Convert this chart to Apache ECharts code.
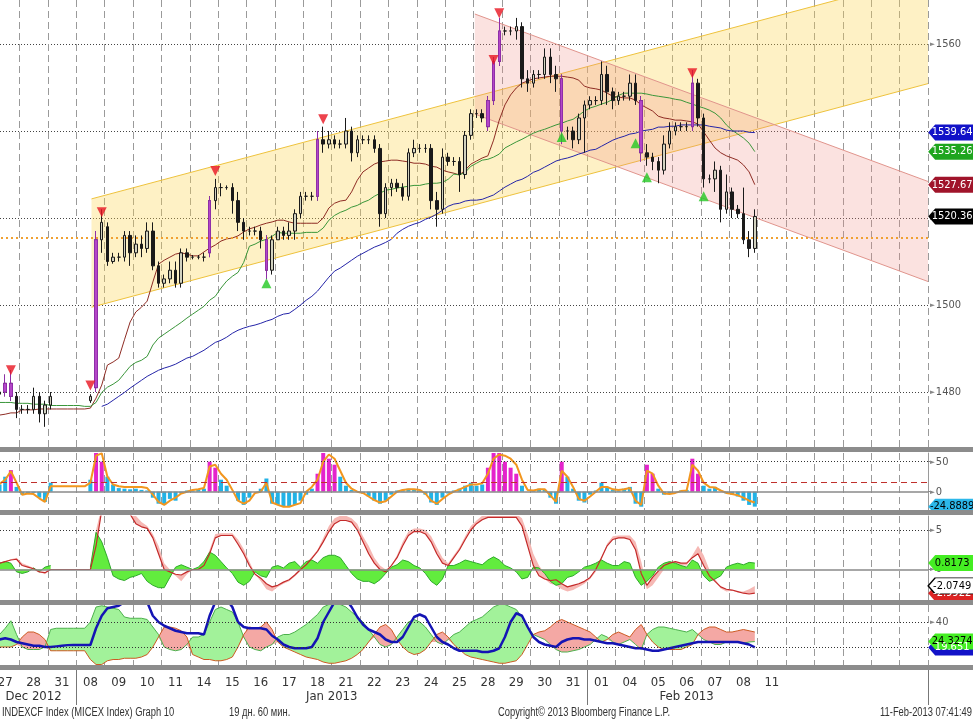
<!DOCTYPE html>
<html><head><meta charset="utf-8">
<script src="https://cdn.jsdelivr.net/npm/echarts@6/dist/echarts.min.js"></script>
<style>html,body{margin:0;padding:0;background:#fff}#c{width:973px;height:723px}</style>
</head><body><div id="c"></div>
<script>
// ---------- categories (5 bars per trading day) ----------
const dayLabels = ['27','28','31','08','09','10','11','14','15','16','17','18','21','22','23','24','25','28','29','30','31','01','04','05','06','07','08','11','','','','',''];
const monthNames = ['Dec 2012','Jan 2013','Feb 2013'];
const monthFirstDay = [0,3,21];
const monthLastDay = [2,20,27];

// ---------- price bars ----------
const open = [
 1479,1479.5,1480,1482,1479,  1476,1476,1476,1479,1475,  1477,null,null,null,null,  null,null,1478,1481,1515,
 1518,1510,1511,1511,1516,  1512,1514,1513,1517,1509,  1505,1506,1508,1505,1512,  1511,1511,1511,1512,1524,
 1527,1527,1527,1524,1519,  1517,1517,1517,1515,1508,  1515,1517,1516,1517,1521,  1525,1525,1525,1538,1537,
 1538,1537,1537,1540,1535,  1538,1538,1538,1536,1521,  1527,1528,1527,1525,1535,  1536,1536,1536,1524,1522,
 1534,1533,1533,1530,1539,  1544,1544,1541,1547,1556,  1563,1563,1563,1564,1552,  1551,1553,1553,1557,1553,
 1552,1540,1540,1538,1543,  1546,1547,1547,1553,1549,  1547,1548,1548,1551,1547,  1535,1534,1533,1531,1537,
 1540,1541,1541,1541,1551,  1543,1529,1529,1531,1522,  1526,1522,1521,1515,1513];
const close = [
 1479.5,1480,1482,1479,1476,  1476,1476,1479,1475,1477,  1479,null,null,null,null,  null,null,1479,1515,1519,
 1510,1511,1511,1516,1512,  1514,1513,1517,1509,1505,  1506,1508,1505,1512,1511,  1511,1511,1511,1524,1527,
 1527,1527,1524,1519,1517,  1517,1517,1515,1508,1515,  1517,1516,1517,1521,1525,  1525,1525,1538,1537,1538,
 1537,1537,1540,1535,1538,  1538,1538,1536,1521,1527,  1528,1527,1525,1535,1536,  1536,1536,1524,1522,1534,
 1533,1533,1530,1539,1544,  1544,1543,1547,1556,1563,  1563,1563,1564,1552,1551,  1553,1553,1557,1553,1552,
 1540,1540,1538,1543,1546,  1547,1547,1553,1549,1547,  1548,1548,1551,1547,1535,  1534,1533,1531,1537,1540,
 1541,1541,1541,1551,1543,  1529,1529,1531,1522,1526,  1522,1521,1515,1513,1520.36];
const high = [
 1480,1481,1484,1485,1480,  1477,1477,1481,1480,1478,  1480,null,null,null,null,  null,null,1479.5,1517,1522,
 1519,1512,1512,1517,1517,  1516,1516,1519,1519,1510,  1507,1510,1510,1513,1513,  1511.5,1511.5,1512,1525,1529,
 1528,1527.5,1528,1526,1520,  1518,1518,1518,1516,1516,  1518,1518,1519,1522,1526,  1526,1526,1540,1541,1540,
 1539,1538,1543,1541,1539,  1539,1539,1539,1537,1528,  1529,1529,1528,1536,1538,  1537,1537,1537,1526,1536,
 1535,1534,1534,1540,1545,  1545,1545,1548,1557,1566,  1564,1564,1566,1565,1554,  1554,1554,1559,1559,1555,
 1553,1541,1541,1544,1547,  1548,1548,1556,1555,1550,  1549,1549,1553,1553,1548,  1537,1535,1534,1539,1542,
 1542,1542,1542,1554,1552,  1544,1530,1533,1532,1530,  1527,1523,1527,1517,1522];
const low = [
 1478,1478.5,1479,1478,1474,  1475,1475,1475,1473,1472,  1476,null,null,null,null,  null,null,1477.5,1480,1512,
 1509,1509.5,1510,1510,1509,  1511,1511,1512,1508,1504,  1504,1505,1504,1504,1510,  1510.5,1510.5,1510,1511,1522,
 1525,1526.5,1521,1517,1515,  1516,1516,1513,1506,1507,  1515,1515,1515,1515,1520,  1524,1524,1524,1535,1536,
 1536,1536,1536,1533,1534,  1537,1537,1535,1518,1520,  1525,1526,1524,1524,1534,  1535,1535,1522,1518,1521,
 1532,1532,1526,1529,1538,  1543,1542,1540,1546,1555,  1562,1562,1561,1550,1549,  1550,1552,1552,1551,1549,
 1537,1538,1536,1537,1535,  1545,1546,1546,1546,1545,  1546,1547,1547,1546,1533,  1532,1531,1528,1530,1536,
 1539,1540,1540,1540,1541,  1527,1528,1526,1519,1521,  1520,1520,1514,1511,1512];
const purpleBars = [2,3,18,38,48,57,87,88,89,100,114,123];
const sellSignals = [[3,1485.0],[17,1481.5],[19,1521.3],[39,1530.8],[58,1542.7],[88,1556.3],[89,1567.1],[123,1553.3]];
const buySignals = [[48,1505.0],[100,1538.6],[113,1537.2],[115,1529.4],[125,1525.0]];
const refLevel = 1515.4;

// ---------- moving averages ----------
const maBrown = [
 1474.7,1474.7,1474.9,1475.2,1475.2, 1475.9,1475.9,1475.9,1476.1,1476.1, 1476.1,1476.1,1476.1,1476.1,1476.1, 1476.1,1476.1,1476.3,1478.6,1481.6,
 1486.2,1486.9,1487.8,1492.0,1496.1, 1498.4,1499.5,1500.9,1505.3,1509.4, 1510.3,1511.0,1511.7,1512.0,1511.7, 1511.3,1511.3,1512.2,1513.1,1513.8,
 1514.7,1515.2,1515.4,1515.9,1516.8, 1517.5,1517.9,1518.4,1518.8,1519.1, 1519.5,1519.5,1519.1,1518.8,1518.8, 1518.8,1518.8,1518.8,1520.0,1522.3,
 1523.4,1523.9,1524.1,1526.0,1528.7, 1530.6,1531.5,1532.4,1532.9,1533.1, 1533.3,1533.3,1533.1,1532.9,1532.6, 1532.6,1532.4,1531.9,1531.7,1531.0,
 1530.6,1530.3,1529.9,1531.0,1532.4, 1533.1,1533.8,1534.3,1537.9,1542.5, 1546.0,1548.3,1549.9,1551.0,1551.5, 1552.0,1552.2,1552.4,1552.6,1552.6,
 1552.6,1552.4,1552.2,1551.7,1550.3, 1549.9,1549.7,1549.4,1548.7,1548.0, 1547.8,1547.6,1547.6,1547.1,1546.0, 1545.3,1544.6,1543.4,1543.0,1542.8,
 1542.5,1542.5,1542.3,1542.1,1541.6, 1539.8,1537.9,1536.1,1535.0,1534.3, 1533.8,1533.3,1532.2,1530.6,1527.67];
const maGreen = [
 1477.9,1477.6,1477.6,1477.6,1477.4, 1477.4,1477.4,1477.2,1477.2,1477.2, 1476.9,1476.9,1476.9,1476.9,1476.9, 1476.9,1476.7,1476.7,1477.6,1479.9,
 1481.1,1481.8,1482.7,1484.3,1485.9, 1486.8,1487.3,1488.2,1490.8,1492.4, 1493.3,1494.2,1495.1,1496.0,1497.0, 1497.9,1498.8,1499.7,1501.1,1502.0,
 1503.9,1505.5,1506.6,1507.5,1509.8, 1513.5,1514.0,1514.7,1515.1,1515.8, 1516.7,1516.5,1516.5,1516.5,1516.5, 1516.7,1516.7,1516.7,1517.7,1519.5,
 1520.6,1521.3,1521.8,1522.5,1522.9, 1523.6,1524.1,1525.0,1525.7,1526.4, 1526.6,1526.9,1527.1,1527.3,1527.5, 1527.5,1527.8,1528.0,1528.0,1528.2,
 1528.9,1530.1,1529.9,1530.5,1531.9, 1532.6,1533.3,1533.5,1534.0,1534.7, 1536.1,1536.8,1537.5,1538.1,1538.8, 1539.5,1540.0,1540.4,1540.9,1541.4,
 1541.8,1542.3,1542.7,1543.6,1544.6, 1545.3,1545.7,1546.2,1546.6,1547.3, 1548.2,1548.7,1548.7,1548.7,1548.7, 1548.5,1548.2,1548.0,1547.8,1547.6,
 1547.3,1547.1,1546.6,1546.2,1545.7, 1545.3,1544.8,1544.1,1543.0,1541.4, 1540.2,1539.3,1538.4,1537.2,1535.26];
const maBlue = [
 null,null,null,null,null, null,null,null,null,null, null,null,null,null,null, null,null,null,null,1476.7,
 1477.2,1478.1,1479.0,1479.9,1480.9, 1481.8,1482.7,1483.6,1484.3,1485.0, 1485.5,1485.9,1486.4,1487.1,1487.8, 1488.2,1488.9,1489.6,1490.5,1491.4,
 1491.9,1492.6,1493.5,1494.2,1494.7, 1495.1,1495.4,1495.8,1496.3,1496.7, 1497.4,1497.9,1498.1,1499.0,1500.0, 1501.1,1502.0,1503.2,1504.8,1506.4,
 1507.8,1508.5,1509.4,1510.3,1511.2, 1511.9,1512.6,1513.3,1513.8,1514.4, 1515.1,1516.5,1517.4,1518.1,1518.6, 1519.0,1519.7,1520.2,1520.9,1521.8,
 1522.7,1523.2,1523.4,1523.9,1524.1, 1524.1,1524.3,1524.8,1525.3,1526.2, 1527.1,1527.8,1528.5,1528.9,1529.6, 1530.5,1531.0,1531.7,1532.4,1533.1,
 1533.5,1533.8,1534.2,1534.7,1535.1, 1535.6,1535.8,1536.5,1537.2,1537.9, 1538.4,1538.8,1539.3,1539.5,1540.0, 1540.2,1540.4,1540.9,1540.9,1541.1,
 1541.1,1541.4,1541.4,1541.4,1541.4, 1541.4,1541.1,1540.9,1540.7,1540.2, 1540.0,1540.0,1540.0,1539.7,1539.64];

// ---------- trend channels (x in bar slots) ----------
const upChannelX = [17.7, 165];
const upChannelTop = [1524.4, 1575.7];
const upChannelBottom = [1499.5, 1550.9];
const downChannelX = [85.2, 165];
const downChannelTop = [1566.9, 1528.4];
const downChannelBottom = [1543.9, 1505.4];

// ---------- panel 1 : oscillator ----------
const osc1Hist = [
 10,12,25,36,8,  -5,-3,-2,-10,-17,  15,null,null,null,null,  null,null,20,65,50,
 25,12,6,5,4,  5,3,2,-10,-20,  -22,-12,-15,-3,2,  2,3,5,50,40,
 20,10,0,-15,-22,  -10,0,5,22,-20,  -22,-24,-25,-22,-15,  -5,5,30,65,55,
 45,25,10,3,0,  -3,-8,-15,-20,-15,  -5,2,3,5,4,  2,-5,-18,-22,-10,
 -3,2,5,10,15,  10,12,40,65,65,  50,40,30,10,0,  2,5,3,-10,-20,
 50,25,5,-15,-18,  -5,2,15,8,3,  2,5,8,-20,-25,  45,30,5,-5,-3,
 0,2,3,55,30,  10,5,8,0,-3,  -5,-8,-15,-22,-24.8889];
const osc1Line = [
 12,13,20,34,15,  -5,-3,-4,-11,-17,  9,9,9,9,9,  9,9,15,60,64,
 25,12,9,8,8,  8,8,6,-5,-17,  -22,-15,-10,-3,0,  3,4,6,42,45,
 30,20,3,-15,-20,  -15,-2,0,15,-18,  -22,-25,-25,-22,-19,  0,8,20,50,62,
 55,35,15,5,0,  -2,-8,-14,-18,-16,  -8,0,3,4,4,  3,-3,-15,-20,-12,
 -5,0,4,8,12,  12,14,30,55,62,  60,55,45,20,3,  2,4,4,-6,-17,
 35,25,8,-12,-15,  -8,0,8,8,4,  3,4,6,-15,-22,  35,30,10,-3,-4,
 -2,1,2,45,35,  15,8,7,2,-2,  -4,-6,-10,-15,-18];
const osc1Levels = [0, 15, 50];

// ---------- panel 2 ----------
const p2Hist = [
 0.5,0.8,1.0,0.8,-0.3,  -0.5,-0.3,0.2,-0.3,0.3,  0.5,null,null,null,null,  null,null,0.3,4.7,3.5,
 1.5,-0.8,-1.2,-1.4,-1.0,  -0.8,-0.5,-1.5,-2.0,-2.3,  -2.3,-1.0,0.3,0.6,0.3,  0,0.3,1.0,2.2,1.8,
 1.0,0.2,-0.5,-1.6,-2.0,  -1.5,-0.3,-0.8,-1.0,0.3,  0.5,0.2,0.8,1.0,0.3,  1.0,1.2,0.8,1.5,1.8,
 1.8,1.5,0.5,-0.5,-1.2,  -1.5,-1.5,-1.8,-1.3,-0.5,  0.3,0.6,1.2,1.0,0.5,  0.2,-0.5,-1.5,-2.0,-1.2,
 0.5,0.5,0.8,1.2,1.0,  0.8,0.6,1.2,1.6,1.2,  0.5,0.2,-0.3,-1.2,-1.0,  0.3,0.2,-0.5,-1.5,-2.0,
 -1.8,-1.0,-0.8,-0.3,0.3,  0.5,0.8,1.2,0.8,0.5,  0.5,1.0,0.8,-1.0,-2.0,  -1.5,-0.8,0.3,0.8,1.0,
 0.8,0.5,0.3,1.2,0.8,  -0.8,-1.5,-1.2,-0.8,0.3,  0.6,0.8,0.6,0.9,0.8173];
const p2Line = [
 0.7,0.8,1.0,1.2,1.3,  0.5,0.3,0.1,-0.3,-0.4,  0,0,0,0,0,  0,0,0,3.0,7.5,
 8,8,8,7.5,7,  5.8,5.4,5.2,4.0,2.0,  0,-0.3,-0.6,-0.7,-0.3,  0,0,0.5,2.0,4.0,
 4.3,4.3,4.3,3.2,2.0,  0.5,-0.6,-1.1,-1.8,-2.2,  -2.0,-1.6,-1.3,-0.7,0,  0.6,1.4,2.3,3.5,4.8,
 5.8,6.2,6.2,6.0,5.0,  3.5,2.0,0.8,0.0,-0.3,  0.5,1.5,3.0,4.3,4.8,  4.8,4.5,3.5,2.0,0.8,
 0.5,1.5,2.5,3.8,5.0,  5.8,6.3,6.6,6.6,6.6,  6.6,6.6,6.6,5.5,3.0,  0.5,-0.8,-1.2,-1.4,-1.3,
 -1.8,-2.2,-2.0,-1.8,-1.5,  -1.0,0,1.5,3.0,3.8,  4.0,4.0,3.8,2.5,-0.5,  -2.0,-1.0,-0.2,0.5,0.8,
 1.0,0.8,0.8,1.5,2.0,  0.5,-0.8,-1.5,-2.2,-2.5,  -2.6,-2.8,-3.0,-3.1,-2.9922];
const p2Signal = [
 0.7,0.8,1.0,1.3,1.5,  0.8,0.5,0.2,-0.3,-0.6,  0,0,0,0,0,  0,0,0,5,8,
 8,8,8,8,8,  6.8,6.0,5.5,4.5,3.0,  0.8,0,-0.8,-1.5,-0.6,  0,0,0.5,2.5,4.5,
 4.6,4.6,4.6,3.8,2.6,  1.0,-0.5,-1.5,-2.5,-2.8,  -2.2,-1.8,-1.5,-0.9,-0.2,  0.8,1.6,2.5,4.0,5.5,
 6.5,6.8,6.8,6.5,5.8,  4.2,3.0,1.5,0.5,0,  0.5,1.8,3.5,4.8,5.2,  5.2,5.0,4.2,2.8,1.5,
 0.8,1.8,2.8,4.2,5.5,  6.2,6.8,7.0,7.0,7.0,  7.0,7.0,7.0,6.5,4.5,  2.0,0.5,-0.5,-1.8,-2.0,
 -2.5,-2.8,-2.6,-2.2,-1.8,  -1.2,-0.3,1.2,3.3,4.2,  4.3,4.3,4.3,3.5,1.0,  -2.5,-2.0,-1.0,0,0.6,
 0.8,0.5,0.5,1.8,3.0,  1.8,0,-1.2,-2.4,-2.8,  -2.7,-2.9,-2.8,-2.5,-2.0749];
const p2Levels = [0, 5];

// ---------- panel 3 : DMI ----------
const plusDI = [
 28,30,35,41,30,  20,18,18,18,20,  34,35,35,35,35,  35,35,40,52,53,
 52,51,50,44,43,  43,43,42,36,30,  20,18,17,18,22,  28,28,30,40,50,
 52,50,48,40,28,  20,18,17,20,22,  28,30,30,32,35,  38,42,46,52,54,
 54,54,52,48,44,  40,34,28,22,20,  22,28,34,40,42,  40,36,30,24,22,
 26,30,32,36,40,  42,44,48,52,54,  54,52,50,44,36,  30,28,26,22,18,
 16,16,17,18,20,  22,26,30,28,24,  22,24,26,22,18,  30,34,36,36,35,
 34,33,32,34,30,  26,24,22,22,24,  24,24,23,24,24.3274];
const minusDI = [
 20,20,20,20,22,  28,32,32,30,26,  17,17,17,17,17,  17,17,10,6,6,
 9,10,10,11,11,  11,12,14,20,28,  36,36,35,33,28,  14,12,10,10,9,
 9,10,12,20,30,  36,35,36,40,34,  24,20,18,16,14,  12,11,10,8,7,
 7,8,9,11,14,  18,24,30,36,38,  34,26,20,16,14,  15,18,24,30,32,
 28,22,18,14,12,  11,10,9,8,7,  7,8,9,14,22,  30,32,33,36,40,
 42,40,38,36,34,  32,28,24,26,30,  32,30,28,34,38,  30,24,20,18,18,
 18,18,20,22,30,  34,36,36,34,32,  32,33,34,33,32];
const adx = [
 25,26,27,26,24,  23,22,21,21,20,  20,20.5,21,21.5,21.6,  21.6,21.6,21.6,35,45,
 51,52,53,56,58,  58,58,56,45,40,  37,35,33,32,31,  31,31,30,45,56,
 58,58,52,40,36,  35,35,35,34,29,  26,22,20,19,19,  19,20,27,40,48,
 56,58,58,52,44,  38,34,32,30,26,  24,24,28,36,44,  46,44,36,28,24,
 22,19,17,17,17,  17,16,16,17,19,  28,40,47,45,36,  28,24,22,21,20,
 24,26,27,27,26,  26,25,24,23,23,  22,21,20,19,19,  18,17,17,18,19,
 20,21,22,23,24,  24,24,24,24,24,  24,24,23,22,19.651];
const p3Levels = [20, 40];

// ================= build =================
const N = dayLabels.length * 5;
const cats = [];
for (let i = 0; i < N; i++) cats.push(dayLabels[Math.floor(i / 5)]);
const last = a => a[a.length - 1];
const FONT = '"Liberation Sans Narrow","DejaVu Sans Condensed","Liberation Sans",sans-serif';

const candleData = open.map((o, i) => o == null ? '-' : [o, close[i], low[i], high[i]]);
const purpleData = open.map((o, i) => (o != null && purpleBars.indexOf(i) >= 0) ? [o, close[i], low[i], high[i]] : '-');

const lo2 = p2Line.map((r, i) => Math.min(r, p2Signal[i]));
const df2 = p2Line.map((r, i) => Math.abs(r - p2Signal[i]));
const lo3 = plusDI.map((p, i) => Math.min(p, minusDI[i]));
const gd3 = plusDI.map((p, i) => Math.max(p - minusDI[i], 0));
const rd3 = plusDI.map((p, i) => Math.max(minusDI[i] - p, 0));

const monthCenters = {};
monthNames.forEach((m, k) => { monthCenters[(monthFirstDay[k] + monthLastDay[k] + 1) / 2 * 5] = m; });
const monthTickSlots = monthFirstDay.slice(1).map(d => d * 5);

function tag(val, bg, fg, txt, border) {
  return {
    coord: [N - 1, val], value: val,
    symbol: 'path://M0,8L7,0L46,0L46,16L7,16Z',
    symbolSize: [46, 16], symbolOffset: [26, 0], symbolKeepAspect: false,
    itemStyle: { color: bg, borderColor: border || bg, borderWidth: border ? 1 : 0 },
    label: { show: true, position: 'inside', formatter: txt, color: fg, fontSize: 11, fontFamily: FONT, offset: [1, 0] }
  };
}
function hline(v, color, type, width) {
  return { yAxis: v, lineStyle: { color: color, type: type, width: width || 1 } };
}
const markLineBase = { silent: true, symbol: 'none', label: { show: false }, animation: false };

const gridBase = { left: -9, right: 45, outerBoundsMode: 'none', containLabel: false };
const grids = [
  Object.assign({ top: 0, height: 447 }, gridBase),
  Object.assign({ top: 453, height: 57 }, gridBase),
  Object.assign({ top: 516, height: 84 }, gridBase),
  Object.assign({ top: 605, height: 60 }, gridBase)
];

function catAxis(g) {
  return {
    type: 'category', gridIndex: g, data: cats, boundaryGap: true, position: 'bottom',
    axisLine: { show: false }, axisTick: { show: false }, axisLabel: { show: false },
    splitLine: { show: true, interval: (i) => i % 5 === 0, lineStyle: { color: '#9a9a9a', type: [7, 4], width: 1 } }
  };
}
const xAxes = [catAxis(0), catAxis(1), catAxis(2), catAxis(3),
  { type: 'value', gridIndex: 0, min: 0, max: N, show: false, position: 'bottom' },
  { type: 'value', gridIndex: 3, min: 0, max: N, interval: 0.5, position: 'bottom',
    axisLine: { show: false }, axisTick: { show: false }, splitLine: { show: false },
    axisLabel: { margin: 25, fontSize: 13, fontFamily: FONT, color: '#333',
      formatter: v => monthCenters[v] || '' } }
];
Object.assign(xAxes[3], {
  axisLabel: { show: true, interval: (i) => i % 5 === 2, margin: 11, fontSize: 13, fontFamily: FONT, color: '#333' },
  axisTick: { show: true, interval: (i) => monthTickSlots.indexOf(i) >= 0, length: 40, inside: false, lineStyle: { color: '#777' } }
});

function yAx(g, min, max, splitNumber, step, withSplit) {
  return {
    type: 'value', gridIndex: g, position: 'right', min: min, max: max, splitNumber: splitNumber,
    axisLine: { show: true, lineStyle: { color: '#9a9a9a' } },
    axisTick: { show: true, length: 4, lineStyle: { color: '#888' } },
    minorTick: { show: g === 0, splitNumber: 2, length: 4, lineStyle: { color: '#888' } },
    axisLabel: { showMinLabel: false, showMaxLabel: false, margin: 2, fontSize: 11, fontFamily: FONT, color: '#555',
      formatter: v => { const r = Math.round(v); return (Math.abs(v - r) < 1e-6 && r % step === 0) ? '{a|►}' + r : ''; },
      rich: { a: { fontSize: 7, color: '#888', padding: [0, 1, 0, 0] } } },
    splitLine: { show: !!withSplit, showMinLine: false, showMaxLine: false, lineStyle: { type: [1, 2], color: '#444' } }
  };
}
const yAxes = [
  yAx(0, 1467.36, 1570.12, 5, 20, true),
  yAx(1, -30.5, 64.5, 2, 50, false),
  yAx(2, -3.86, 6.77, 2, 5, false),
  yAx(3, 5.6, 53.6, 2, 20, false)
];

const noSym = { symbol: 'none', showSymbol: false, animation: false };

function bandSeries(xs, top, bottom, fill, stroke) {
  return {
    type: 'custom', xAxisIndex: 4, yAxisIndex: 0, z: 1, silent: true, animation: false, clip: true,
    encode: { x: [0, 1], y: [2, 3, 4, 5] },
    data: [[xs[0], xs[1], top[0], top[1], bottom[0], bottom[1]]],
    renderItem: (params, api) => {
      const a = api.coord([api.value(0), api.value(2)]);
      const b = api.coord([api.value(1), api.value(3)]);
      const c = api.coord([api.value(1), api.value(5)]);
      const d = api.coord([api.value(0), api.value(4)]);
      return { type: 'group', children: [
        { type: 'polygon', shape: { points: [a, b, c, d] }, style: { fill: fill, stroke: null } },
        { type: 'polyline', shape: { points: [a, b] }, style: { stroke: stroke, lineWidth: 1, fill: null } },
        { type: 'polyline', shape: { points: [d, c] }, style: { stroke: stroke, lineWidth: 1, fill: null } }
      ] };
    }
  };
}

const series = [
  bandSeries(upChannelX, upChannelTop, upChannelBottom, 'rgba(252,212,80,0.33)', '#eec23c'),
  bandSeries(downChannelX, downChannelTop, downChannelBottom, 'rgba(240,140,130,0.25)', '#e0948c'),
  // moving averages
  Object.assign({ type: 'line', xAxisIndex: 0, yAxisIndex: 0, data: maBrown, z: 3, lineStyle: { color: '#8e2c24', width: 1 },
    markPoint: { silent: true, animation: false, data: [tag(last(maBrown), '#a0142a', '#fff', last(maBrown).toFixed(2))] } }, noSym),
  Object.assign({ type: 'line', xAxisIndex: 0, yAxisIndex: 0, data: maGreen, z: 3, lineStyle: { color: '#3a963a', width: 1 },
    markPoint: { silent: true, animation: false, data: [tag(last(maGreen), '#1ea51e', '#fff', last(maGreen).toFixed(2))] } }, noSym),
  Object.assign({ type: 'line', xAxisIndex: 0, yAxisIndex: 0, data: maBlue, z: 3, lineStyle: { color: '#2424a8', width: 1 },
    markPoint: { silent: true, animation: false, data: [tag(last(maBlue), '#1212c8', '#fff', last(maBlue).toFixed(2))] } }, noSym),
  // candles
  { type: 'candlestick', xAxisIndex: 0, yAxisIndex: 0, data: candleData, barWidth: 3, z: 5, animation: false,
    itemStyle: { color: '#d2d2c0', color0: '#1a1a1a', borderColor: '#1a1a1a', borderColor0: '#1a1a1a', borderWidth: 1 },
    markLine: Object.assign({}, markLineBase, { data: [hline(refLevel, '#f0a030', [2, 3], 2)] }),
    markPoint: { silent: true, animation: false, data: [tag(last(close), '#000', '#fff', last(close).toFixed(2))] } },
  { type: 'candlestick', xAxisIndex: 0, yAxisIndex: 0, data: purpleData, barWidth: 3, z: 6, animation: false,
    itemStyle: { color: '#b446c8', color0: '#b446c8', borderColor: '#8e2ea8', borderColor0: '#8e2ea8', borderWidth: 1 } },
  { type: 'scatter', xAxisIndex: 0, yAxisIndex: 0, data: sellSignals, symbol: 'triangle', symbolRotate: 180,
    symbolSize: [10, 10], itemStyle: { color: '#e81420' }, z: 7, animation: false },
  { type: 'scatter', xAxisIndex: 0, yAxisIndex: 0, data: buySignals, symbol: 'triangle',
    symbolSize: [10, 10], itemStyle: { color: '#22c822' }, z: 7, animation: false },

  // panel 1
  { type: 'bar', xAxisIndex: 1, yAxisIndex: 1, data: osc1Hist, barWidth: 4, z: 2, animation: false,
    itemStyle: { color: p => (p.value >= 30 ? '#e424cc' : '#22b2e6') },
    markLine: Object.assign({}, markLineBase, { data: [hline(osc1Levels[0], '#8a8a8a', 'solid', 1.5), hline(osc1Levels[1], '#c0302c', [6, 4], 1), hline(osc1Levels[2], '#333', [1, 2], 1)] }),
    markPoint: { silent: true, animation: false, data: [tag(last(osc1Hist), '#2cb8ea', '#000', String(last(osc1Hist)))] } },
  Object.assign({ type: 'line', xAxisIndex: 1, yAxisIndex: 1, data: osc1Line, z: 3, lineStyle: { color: '#f2961e', width: 2 } }, noSym),

  // panel 2
  Object.assign({ type: 'line', xAxisIndex: 2, yAxisIndex: 2, data: lo2, stack: 'p2', stackStrategy: 'all', z: 2, lineStyle: { width: 0, opacity: 0 } }, noSym),
  Object.assign({ type: 'line', xAxisIndex: 2, yAxisIndex: 2, data: df2, stack: 'p2', stackStrategy: 'all', z: 2,
    lineStyle: { width: 0, opacity: 0 }, areaStyle: { color: '#f6b8b4', opacity: 1 } }, noSym),
  Object.assign({ type: 'line', xAxisIndex: 2, yAxisIndex: 2, data: p2Hist, z: 3, connectNulls: false,
    lineStyle: { color: '#2ea82a', width: 1 }, areaStyle: { color: '#62ec3e', opacity: 1 },
    markLine: Object.assign({}, markLineBase, { data: [hline(p2Levels[0], '#8a8a8a', 'solid', 1.5), hline(p2Levels[1], '#333', [1, 2], 1)] }),
    markPoint: { silent: true, animation: false, data: [tag(last(p2Hist), '#44ee22', '#000', String(last(p2Hist)))] } }, noSym),
  Object.assign({ type: 'line', xAxisIndex: 2, yAxisIndex: 2, data: p2Line, z: 4, lineStyle: { color: '#c42a2a', width: 1.2 },
    markPoint: { silent: true, animation: false, data: [
      tag(last(p2Line), '#dd2222', '#fff', String(last(p2Line))),
      tag(last(p2Signal), '#ffffff', '#000', String(last(p2Signal)), '#000')] } }, noSym),

  // panel 3
  Object.assign({ type: 'line', xAxisIndex: 3, yAxisIndex: 3, data: lo3, stack: 'g3', stackStrategy: 'all', z: 2, lineStyle: { width: 0, opacity: 0 } }, noSym),
  Object.assign({ type: 'line', xAxisIndex: 3, yAxisIndex: 3, data: gd3, stack: 'g3', stackStrategy: 'all', z: 2,
    lineStyle: { width: 0, opacity: 0 }, areaStyle: { color: '#a2f29a', opacity: 1 } }, noSym),
  Object.assign({ type: 'line', xAxisIndex: 3, yAxisIndex: 3, data: lo3, stack: 'r3', stackStrategy: 'all', z: 2, lineStyle: { width: 0, opacity: 0 } }, noSym),
  Object.assign({ type: 'line', xAxisIndex: 3, yAxisIndex: 3, data: rd3, stack: 'r3', stackStrategy: 'all', z: 2,
    lineStyle: { width: 0, opacity: 0 }, areaStyle: { color: '#f4a8a4', opacity: 1 } }, noSym),
  Object.assign({ type: 'line', xAxisIndex: 3, yAxisIndex: 3, data: plusDI, z: 3, lineStyle: { color: '#4cb04c', width: 1 },
    markLine: Object.assign({}, markLineBase, { data: p3Levels.map(v => hline(v, '#333', [1, 2], 1)) }) }, noSym),
  Object.assign({ type: 'line', xAxisIndex: 3, yAxisIndex: 3, data: minusDI, z: 3, lineStyle: { color: '#cc5a22', width: 1 } }, noSym),
  Object.assign({ type: 'line', xAxisIndex: 3, yAxisIndex: 3, data: adx, z: 4, lineStyle: { color: '#1414b4', width: 2.5 },
    markPoint: { silent: true, animation: false, data: [
      tag(last(adx), '#1212c8', '#fff', String(last(adx))),
      tag(last(plusDI), '#44ee22', '#000', String(last(plusDI)))] } }, noSym)
];

const sepColor = '#8c8c8c';
const TFONT = '12px "Liberation Sans",sans-serif';
const txt = (t, x, align) => ({ type: 'text', x: x, y: 707, scaleX: 0.78, z: 100,
  style: { text: t, font: TFONT, fill: '#333', align: align || 'left', verticalAlign: 'top' } });
const option = {
  animation: false,
  backgroundColor: '#fff',
  grid: grids,
  xAxis: xAxes,
  yAxis: yAxes,
  series: series,
  graphic: [
    { type: 'rect', shape: { x: 0, y: 447, width: 973, height: 5 }, style: { fill: sepColor }, z: 100 },
    { type: 'rect', shape: { x: 0, y: 510, width: 973, height: 5 }, style: { fill: sepColor }, z: 100 },
    { type: 'rect', shape: { x: 0, y: 600, width: 973, height: 5 }, style: { fill: sepColor }, z: 100 },
    { type: 'rect', shape: { x: 0, y: 665, width: 973, height: 5 }, style: { fill: sepColor }, z: 100 },
    txt('INDEXCF Index (MICEX Index) Graph 10', 2),
    txt('19 дн. 60 мин.', 229),
    txt('Copyright© 2013 Bloomberg Finance L.P.', 498),
    txt('11-Feb-2013 07:41:49', 972, 'right')
  ]
};
const chart = echarts.init(document.getElementById('c'));
chart.setOption(option);
</script></body></html>
